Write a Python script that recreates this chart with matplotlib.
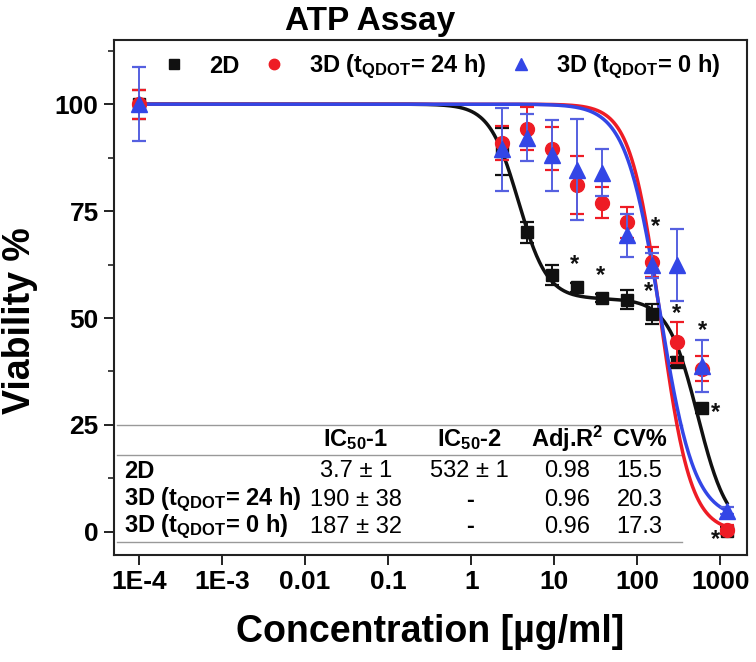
import numpy as np
import matplotlib
matplotlib.use("Agg")
import matplotlib.pyplot as plt
from matplotlib.ticker import LogLocator, FixedLocator, NullFormatter, FixedFormatter

plt.rcParams['font.family'] = ['Liberation Sans', 'DejaVu Sans']
plt.rcParams['mathtext.fontset'] = 'custom'
plt.rcParams['mathtext.rm'] = 'Liberation Sans:bold'
plt.rcParams['mathtext.it'] = 'Liberation Sans:bold'
plt.rcParams['mathtext.bf'] = 'Liberation Sans:bold'

# ---------------- data ----------------
conc = [1e-4, 2.34, 4.69, 9.375, 18.75, 37.5, 75, 150, 300, 600, 1200]

v_2d = [100, 89.0, 70.0, 60.1, 57.2, 54.7, 54.3, 50.9, 39.8, 28.9, 0.3]
e_2d = [3.4, 5.5, 2.5, 2.3, 1.0, 1.0, 2.2, 2.4, 1.0, 1.0, 0.8]

v_24 = [100, 90.9, 94.3, 89.6, 81.1, 77.0, 72.4, 63.2, 44.3, 38.2, 0.5]
e_24 = [3.4, 4.0, 5.0, 5.0, 6.8, 3.7, 3.6, 3.5, 4.8, 3.0, 1.0]

v_0 = [100, 89.5, 92.2, 88.0, 84.7, 84.0, 69.3, 62.3, 62.3, 38.8, 5.0]
e_0 = [8.6, 9.7, 5.5, 8.3, 11.8, 5.5, 5.0, 3.0, 8.4, 6.1, 0.8]

# fitted dose-response parameters (top, bottom, IC50, Hill slope)
fit_2d = dict(top=100, bottom=0, frac1=0.455, ic1=3.7, h1=2.5, ic2=532, h2=2.4)
fit_24 = dict(top=100, bottom=0, ic=190, h=2.4)
fit_0 = dict(top=100, bottom=3, ic=187, h=2.1)

# significance stars (x, y)
star_x = [17.7, 36.3, 166, 137, 296, 610, 870, 874]
star_y = [62.5, 60.0, 71.3, 56.2, 51.0, 47.1, 28.0, -1.8]

# summary table
tbl_rows = ['2D', r'3D (t$_{QDOT}$= 24 h)', r'3D (t$_{QDOT}$= 0 h)']
tbl_head = [r'IC$_{50}$-1', r'IC$_{50}$-2', r'Adj.R$^{2}$', 'CV%']
tbl_ic1 = ['3.7 ± 1', '190 ± 38', '187 ± 32']
tbl_ic2 = ['532 ± 1', '-', '-']
tbl_r2 = ['0.98', '0.96', '0.96']
tbl_cv = ['15.5', '20.3', '17.3']

xticks = [1e-4, 1e-3, 0.01, 0.1, 1, 10, 100, 1000]
xticklabels = ['1E-4', '1E-3', '0.01', '0.1', '1', '10', '100', '1000']
yticks = [0, 25, 50, 75, 100]

# ---------------- figure ----------------
fig = plt.figure(figsize=(7.56, 6.62), dpi=100)
ax = fig.add_axes([114/756, 1 - 555/662, (747-114)/756, (555-40)/662])
ax.set_xscale('log')
ax.set_xlim(10**-4.3, 10**3.32)
ax.set_ylim(-5.4, 115)

BLACK = '#111111'
RED = '#ee1c25'
BLUE = '#3346e6'
BLUE_E = '#5560e0'

xs = np.logspace(-4, np.log10(1200), 600)
def hill(x, top, bottom, ic, h):
    return bottom + (top - bottom) / (1 + (x / ic) ** h)
def biphasic(x, top, bottom, frac1, ic1, h1, ic2, h2):
    return bottom + (top - bottom) * (frac1 / (1 + (x / ic1) ** h1) + (1 - frac1) / (1 + (x / ic2) ** h2))

ax.plot(xs, biphasic(xs, **fit_2d), color=BLACK, lw=2.5, zorder=2)
ax.plot(xs, hill(xs, **fit_24), color=RED, lw=2.5, zorder=2)
ax.plot(xs, hill(xs, **fit_0), color=BLUE, lw=2.5, zorder=2.2)

eb_kw = dict(capsize=5, elinewidth=1.4, capthick=1.6, ls='none')
h1 = ax.errorbar(conc, v_2d, yerr=e_2d, fmt='s', color=BLACK, ms=9, ecolor=BLACK, zorder=3, **eb_kw)
h2 = ax.errorbar(conc, v_24, yerr=e_24, fmt='o', color=RED, ms=10, ecolor=RED, zorder=3.1, **eb_kw)
h3 = ax.errorbar(conc, v_0, yerr=e_0, fmt='^', color=BLUE, ms=11, ecolor=BLUE_E, zorder=3.2, **eb_kw)

for sx, sy in zip(star_x, star_y):
    ax.text(sx, sy, '*', ha='center', va='center', fontsize=17, fontweight='bold', color=BLACK, zorder=4)

leg = ax.legend([h1[0], h2[0], h3[0]], ['2D', r'3D (t$_{QDOT}$= 24 h)', r'3D (t$_{QDOT}$= 0 h)'],
                loc='upper left', bbox_to_anchor=(0.042, 1.016), ncol=3, frameon=False,
                prop=dict(weight='bold', size=17), handletextpad=1.0, columnspacing=0.95,
                handlelength=1.0, markerscale=0.75)

# table
tr = ax.get_yaxis_transform()  # x axes, y data
line_kw = dict(color='#999999', lw=1.0, zorder=1)
for yl in [25, 18.0, -2.3]:
    ax.plot([0.005, 0.897], [yl, yl], transform=tr, **line_kw)
col_x = [0.382, 0.562, 0.716, 0.830]
head_y = 21.7
row_y = [14.2, 7.4, 1.2]
fs = 17
for cx, hd in zip(col_x, tbl_head):
    ax.text(cx, head_y, hd, transform=tr, ha='center', va='center', fontsize=fs, fontweight='bold')
for i, ry in enumerate(row_y):
    ax.text(0.016, ry, tbl_rows[i], transform=tr, ha='left', va='center', fontsize=fs, fontweight='bold')
    for cx, col in zip(col_x, [tbl_ic1, tbl_ic2, tbl_r2, tbl_cv]):
        ax.text(cx, ry, col[i], transform=tr, ha='center', va='center', fontsize=fs,
                fontweight='bold' if col[i] == '-' else 'normal')

# axes styling
ax.xaxis.set_major_locator(FixedLocator(xticks))
ax.xaxis.set_major_formatter(FixedFormatter(xticklabels))
ax.xaxis.set_minor_locator(LogLocator(base=10, subs=np.arange(2, 10)))
ax.xaxis.set_minor_formatter(NullFormatter())
ax.yaxis.set_major_locator(FixedLocator(yticks))
ax.yaxis.set_minor_locator(FixedLocator([12.5, 37.5, 62.5, 87.5, 112.5]))
ax.tick_params(which='major', direction='out', length=7, width=1.4, labelsize=19, colors='#222222', pad=4)
ax.tick_params(which='minor', direction='out', length=4, width=1.2, colors='#222222')
for lab in ax.get_xticklabels() + ax.get_yticklabels():
    lab.set_fontweight('bold')
    lab.set_color('black')
for sp in ax.spines.values():
    sp.set_linewidth(1.5)
    sp.set_color('#222222')

ax.set_xlabel('Concentration [µg/ml]', fontsize=27, fontweight='bold', labelpad=14)
fig.text(0.027, 1 - 321/662, 'Viability %', rotation=90, ha='center', va='center',
         fontsize=27, fontweight='bold')
fig.text(0.49, 0.968, 'ATP Assay', ha='center', va='center', fontsize=24, fontweight='bold')

fig.savefig('out.png', dpi=100)
